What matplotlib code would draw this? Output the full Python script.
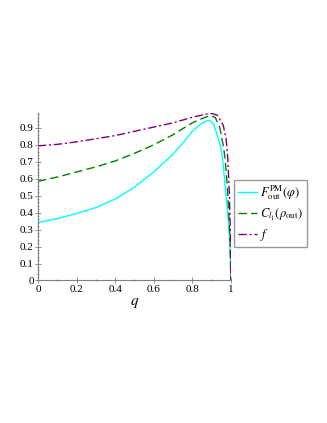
import numpy as np
import matplotlib.pyplot as plt
from matplotlib.ticker import MultipleLocator

# values
q_fid = [0.0, 0.1, 0.2, 0.3, 0.4, 0.5, 0.6, 0.7, 0.75, 0.8, 0.85, 0.87, 0.89,
         0.91, 0.926, 0.94, 0.952, 0.96, 0.975, 0.985, 0.993, 0.998, 1.0]
fid = [0.342, 0.365, 0.395, 0.43, 0.48, 0.55, 0.64, 0.745, 0.81, 0.88, 0.928,
       0.94, 0.945, 0.925, 0.868, 0.82, 0.76, 0.69, 0.5, 0.38, 0.25, 0.12, 0.0]

q_coh = [0.0, 0.1, 0.2, 0.3, 0.4, 0.5, 0.6, 0.7, 0.8, 0.85, 0.88, 0.9, 0.92,
         0.943, 0.96, 0.97, 0.982, 0.99, 0.996, 1.0]
coh = [0.585, 0.61, 0.64, 0.67, 0.705, 0.75, 0.80, 0.86, 0.93, 0.955, 0.968,
       0.972, 0.96, 0.9, 0.8, 0.72, 0.55, 0.38, 0.22, 0.0]

q_f = [0.0, 0.1, 0.2, 0.3, 0.4, 0.5, 0.6, 0.7, 0.8, 0.85, 0.88, 0.9, 0.93,
       0.96, 0.975, 0.984, 0.992, 0.997, 1.0]
f = [0.794, 0.803, 0.818, 0.836, 0.855, 0.88, 0.905, 0.93, 0.963, 0.976, 0.983,
     0.986, 0.975, 0.917, 0.84, 0.72, 0.52, 0.3, 0.0]

plt.rcParams['font.family'] = ['Liberation Serif', 'DejaVu Serif']
plt.rcParams['mathtext.fontset'] = 'stix'

fig = plt.figure(figsize=(3.27, 4.23), dpi=100)
ax = fig.add_axes([0.116, 0.337, 0.590, 0.395])

ax.plot(q_fid, fid, color='#00ffff', lw=1.0, label=r'$F_{\mathrm{out}}^{\mathrm{PM}}(\varphi)$')
ax.plot(q_coh, coh, color='#008000', lw=1.0, ls=(0, (6, 3)),
        label=r'$C_{l_1}(\rho_{\mathrm{out}})$')
ax.plot(q_f, f, color='#800080', lw=1.0, ls=(0, (6, 2, 1.5, 2)), label=r'$f$')

ax.set_xlim(0, 1)
ax.set_ylim(0, max(f))
ax.xaxis.set_major_locator(MultipleLocator(0.2))
ax.xaxis.set_minor_locator(MultipleLocator(0.1))
ax.yaxis.set_major_locator(MultipleLocator(0.1))
ax.yaxis.set_minor_locator(MultipleLocator(0.02))
ax.xaxis.set_major_formatter(plt.FuncFormatter(lambda v, p: f'{v:g}'))
ax.yaxis.set_major_formatter(plt.FuncFormatter(lambda v, p: f'{v:g}'))

for s in ['top', 'right']:
    ax.spines[s].set_visible(False)
for s in ['left', 'bottom']:
    ax.spines[s].set_color('#808080')
    ax.spines[s].set_linewidth(0.8)
ax.tick_params(which='major', direction='inout', length=4, width=0.6,
               color='#808080', labelsize=8, pad=1)
ax.tick_params(which='minor', direction='inout', length=2, width=0.5,
               color='#808080')
ax.set_xlabel(r'$q$', fontsize=11, labelpad=2)

fig.legend(loc='upper left', bbox_to_anchor=(234 / 327, 1 - 180 / 423),
           fontsize=9, frameon=True, fancybox=False, edgecolor='#808080',
           handlelength=1.5, handletextpad=0.3, borderpad=0.3,
           labelspacing=0.35, borderaxespad=0)

fig.savefig('out.png', dpi=100)
